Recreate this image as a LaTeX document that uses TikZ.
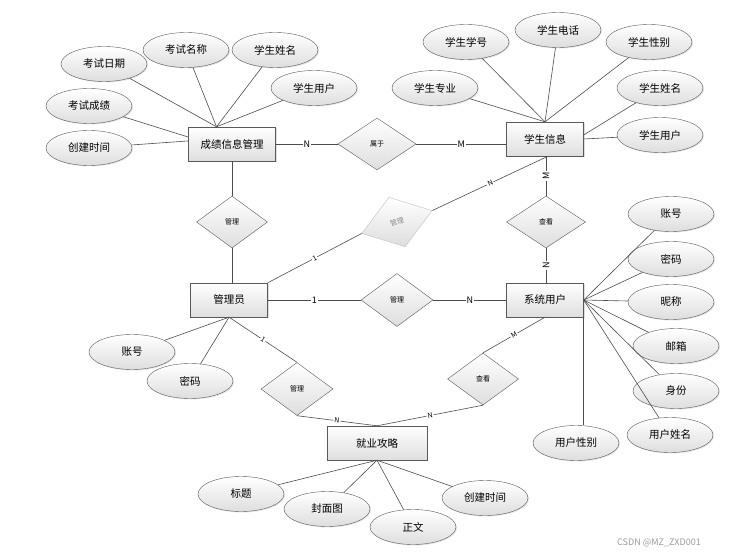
\documentclass[tikz,border=0pt]{standalone}
\usepackage{fontspec}
\setmainfont{Noto Sans CJK SC}
\usetikzlibrary{shapes.geometric,shadows}

\begin{document}
\begin{tikzpicture}[x=1pt, y=-1pt]
        \tikzstyle{entity}=[rectangle,draw=black!65,top color=white,bottom color=black!13,minimum height=34pt,inner sep=2pt,font=\fontsize{10.5}{12}\selectfont,drop shadow={opacity=0.25,shadow xshift=1pt,shadow yshift=-1pt}]
        \tikzstyle{attr}=[ellipse,draw=black!65,top color=white,bottom color=black!13,minimum width=86pt,minimum height=35pt,inner sep=0pt,font=\fontsize{10.5}{12}\selectfont,drop shadow={opacity=0.2,shadow xshift=1pt,shadow yshift=-1pt}]
        \tikzstyle{rel}=[diamond,draw=black!65,top color=white,bottom color=black!13,minimum width=72pt,minimum height=52pt,inner sep=0pt,font=\fontsize{7}{8}\selectfont]
        \tikzstyle{card}=[fill=white,inner sep=1pt,font=\fontsize{9}{9}\selectfont]
        \tikzstyle{scard}=[card,sloped,font=\fontsize{7}{7}\selectfont]
        \tikzstyle{link}=[draw=black!70,line width=0.6pt]

        \useasboundingbox (0,0) rectangle (733,556);

        % entities
        \node[entity,minimum width=87pt] (E_grade) at (232,144) {成绩信息管理};
        \node[entity,minimum width=77pt] (E_student) at (545,139) {学生信息};
        \node[entity,minimum width=77pt] (E_admin) at (229,300) {管理员};
        \node[entity,minimum width=77pt] (E_user) at (545,300) {系统用户};
        \node[entity,minimum width=100pt] (E_guide) at (377,443) {就业攻略};

        % relations
        \node[rel,minimum width=78pt] (R_belong) at (377,144) {属于};
        \node[rel,minimum width=71pt] (R_manage1) at (232,222) {管理};
        \node[rel,minimum width=74pt,draw=black!25,text=black!45,rotate=18] (R_gray) at (397,222) {管理};
        \node[rel,minimum width=79pt] (R_view1) at (546,222) {查看};
        \node[rel,minimum height=53pt] (R_manage2) at (397,300) {管理};
        \node[rel,minimum height=53pt] (R_manage3) at (297,389) {管理};
        \node[rel,minimum width=71pt] (R_view2) at (483,379) {查看};

        % attributes
        \node[attr] (grade_date) at (104,64) {考试日期};
        \node[attr] (grade_name) at (186,50) {考试名称};
        \node[attr] (grade_stuname) at (275,50) {学生姓名};
        \node[attr] (grade_stuuser) at (314,88) {学生用户};
        \node[attr] (grade_score) at (89,106) {考试成绩};
        \node[attr] (grade_time) at (89,148) {创建时间};

        \node[attr] (stu_no) at (466,42) {学生学号};
        \node[attr] (stu_tel) at (558,30) {学生电话};
        \node[attr] (stu_sex) at (649,42) {学生性别};
        \node[attr] (stu_major) at (435,88) {学生专业};
        \node[attr] (stu_name) at (660,88) {学生姓名};
        \node[attr] (stu_user) at (660,135) {学生用户};

        \node[attr] (user_acc) at (671,214) {账号};
        \node[attr] (user_pwd) at (671,259) {密码};
        \node[attr] (user_nick) at (671,302) {昵称};
        \node[attr] (user_mail) at (676,346) {邮箱};
        \node[attr] (user_role) at (676,391) {身份};
        \node[attr] (user_name) at (670,435) {用户姓名};
        \node[attr] (user_sex) at (576,443) {用户性别};

        \node[attr] (admin_acc) at (132,352) {账号};
        \node[attr] (admin_pwd) at (190,381) {密码};

        \node[attr] (guide_title) at (241,494) {标题};
        \node[attr] (guide_cover) at (327,509) {封面图};
        \node[attr] (guide_text) at (413,527) {正文};
        \node[attr] (guide_time) at (485,498) {创建时间};

        % attribute links
        \foreach \a in {grade_date,grade_name,grade_stuname,grade_stuuser}
            \draw[link] (\a) -- (E_grade.132);
        \draw[link] (grade_score) -- (E_grade.171);
        \draw[link] (grade_time) -- (E_grade.176);
        \foreach \a in {stu_no,stu_tel,stu_sex,stu_major}
            \draw[link] (\a) -- (E_student.north);
        \draw[link] (stu_name) -- (E_student.6);
        \draw[link] (stu_user) -- (E_student.east);
        \foreach \a in {user_acc,user_pwd,user_nick,user_mail,user_role,user_name}
            \draw[link] (\a) -- (E_user.east);
        \draw[link] (E_user.south east) -- (E_user.south east |- user_sex.north);
        \foreach \a in {admin_acc,admin_pwd}
            \draw[link] (\a) -- (E_admin.south);
        \foreach \a in {guide_title,guide_cover,guide_text,guide_time}
            \draw[link] (\a) -- (E_guide.south);

        % relation links
        \draw[link] (E_grade) -- (R_belong) node[midway,card] {N} -- (E_student.west |- R_belong) node[midway,card] {M};
        \draw[link] (E_grade) -- (R_manage1) -- (E_admin.north -| R_manage1);
        \draw[link] (E_student.south -| R_view1) -- (R_view1) node[midway,card,rotate=90] {M} -- (E_user.north -| R_view1) node[midway,card,rotate=90] {N};
        \draw[link] (E_admin.north east) -- (R_gray.west) node[midway,scard] {1};
        \draw[link] (R_gray.east) -- (E_student.280) node[midway,scard] {N};
        \draw[link] (E_admin) -- (R_manage2) node[midway,card] {1} -- (E_user) node[midway,card] {N};
        \draw[link] (E_admin.south) -- (R_manage3.north) node[midway,scard] {1};
        \draw[link] (R_manage3.south) -- (E_guide.north) node[midway,scard] {N};
        \draw[link] (E_user.south) -- (R_view2.north) node[midway,scard] {M};
        \draw[link] (R_view2.south) -- (E_guide.north) node[midway,scard] {N};

        \node[text=black!40,font=\fontsize{9}{9}\selectfont] (mark) at (659,543) {CSDN @MZ\_ZXD001};
\end{tikzpicture}
\end{document}
